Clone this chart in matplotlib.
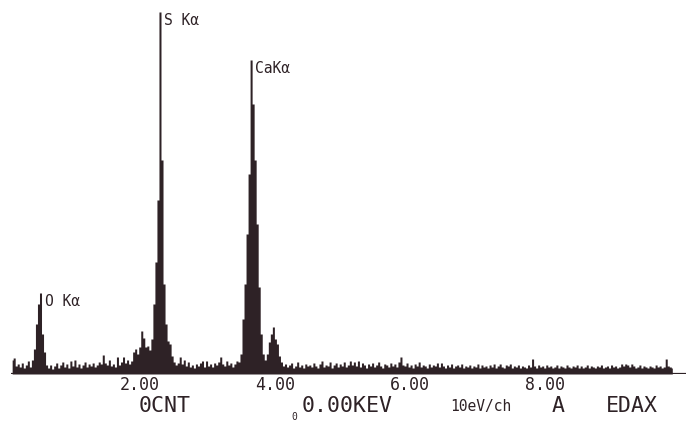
import numpy as np
import matplotlib.pyplot as plt

# EDAX spectrum, 0.03 keV bins starting at 0.11 keV
start_kev = 0.11
bin_kev = 0.03

counts_low = [14, 16, 8, 10, 7, 11, 6, 9, 13, 7,
              14, 25, 50, 70, 81, 40, 22, 9, 6, 9,
              5, 8, 11, 6, 9, 12, 7, 10, 6, 13,
              8, 14, 7, 10, 6, 9, 12, 7, 10, 8,
              11, 7, 9, 12, 10, 19, 11, 9, 14, 8,
              10, 7, 17]
counts_s = [9, 12, 17, 11, 14, 10, 13, 22, 25, 20,
            27, 43, 36, 27, 28, 24, 35, 70, 112, 174,
            362, 214, 90, 50, 33, 30, 18, 12, 9, 11,
            17, 10, 14, 8, 12, 7, 9, 6, 10, 8,
            11, 13, 7, 13]
counts_ca = [8, 10, 7, 11, 9, 12, 17, 10, 8, 13,
             9, 11, 7, 10, 13, 12, 20, 55, 90, 140,
             200, 314, 270, 214, 150, 87, 40, 20, 14, 20,
             32, 40, 47, 35, 30, 18, 12, 8, 10, 7,
             9, 11, 6, 8, 12, 7, 9, 6, 10, 8]
counts_high = [9, 7, 11, 8, 6, 10, 13, 7, 9, 8, 12, 6, 9, 11, 7, 10, 8, 12, 7, 9,
               13, 9, 12, 8, 13, 7, 11, 9, 6, 10, 8, 11, 7, 9, 12, 8, 6, 10, 9, 7,
               11, 8, 10, 7, 12, 17, 9, 8, 11, 7, 9, 6, 10, 8, 12, 7, 9, 8, 6, 10,
               7, 9, 8, 11, 7, 11, 8, 6, 9, 7, 10, 6, 8, 9, 7, 10, 6, 8, 7, 9,
               6, 8, 7, 10, 6, 9, 7, 8, 6, 9, 7, 10, 6, 8, 10, 7, 6, 9, 8, 10,
               6, 8, 7, 9, 6, 8, 7, 6, 9, 7, 15, 8, 6, 9, 7, 8, 6, 9, 7, 8,
               6, 7, 9, 6, 8, 7, 6, 9, 7, 6, 8, 7, 9, 6, 8, 6, 7, 9, 6, 8,
               7, 6, 8, 7, 9, 6, 7, 8, 6, 9, 7, 8, 6, 7, 10, 8, 10, 9, 7, 10,
               8, 6, 7, 9, 6, 8, 7, 6, 8, 7, 6, 9, 7, 8, 6, 7, 15, 8, 7, 6]

peak_labels = ["O K\u03b1", "S K\u03b1", "CaK\u03b1"]
peak_kev = [0.53, 2.30, 3.65]
peak_counts = [81, 362, 314]

tick_kev = [2, 4, 6, 8]
tick_labels = ["2.00", "4.00", "6.00", "8.00"]

counts = np.array(counts_low + counts_s + counts_ca + counts_high)
energy = start_kev + bin_kev * np.arange(len(counts))

ink = "#2e2226"
mono = "DejaVu Sans Mono"

fig = plt.figure(figsize=(6.86, 4.23), dpi=100)
ax = fig.add_axes([0, 49 / 423, 1, 374 / 423])
ax.fill_between(energy, counts, step="mid", color=ink, lw=0)
ax.plot([start_kev - bin_kev / 2, 11], [0, 0], color=ink, lw=1.6, solid_capstyle="butt")

ax.set_xlim(-0.07, 10.093)
ax.set_ylim(0, 374)
for s in ax.spines.values():
    s.set_visible(False)
ax.set_yticks([])
ax.set_xticks(tick_kev)
ax.set_xticklabels(tick_labels, family=mono, fontsize=12, color=ink)
ax.tick_params(axis="x", length=0, pad=1.5)

for lab, e, c in zip(peak_labels, peak_kev, peak_counts):
    ax.text(e + 0.06, c - 1, lab, family=mono, fontsize=10.5, color=ink,
            ha="left", va="top")

# status line under the axis
def fig_text(x_px, y_px, s, size, **kw):
    fig.text(x_px / 686, 1 - y_px / 423, s, family=mono, fontsize=size,
             color=ink, **kw)

fig_text(165, 406, "0CNT", 15.5, ha="center", va="center")
fig_text(347, 406, "0.00KEV", 15.5, ha="center", va="center")
fig_text(481, 406, "10eV/ch", 10.5, ha="center", va="center")
fig_text(558, 406, "A", 15.5, ha="center", va="center")
fig_text(632, 406, "EDAX", 15.5, ha="center", va="center")
fig_text(294, 422, "0", 7, ha="center", va="bottom")

fig.savefig("out.png", dpi=100)
